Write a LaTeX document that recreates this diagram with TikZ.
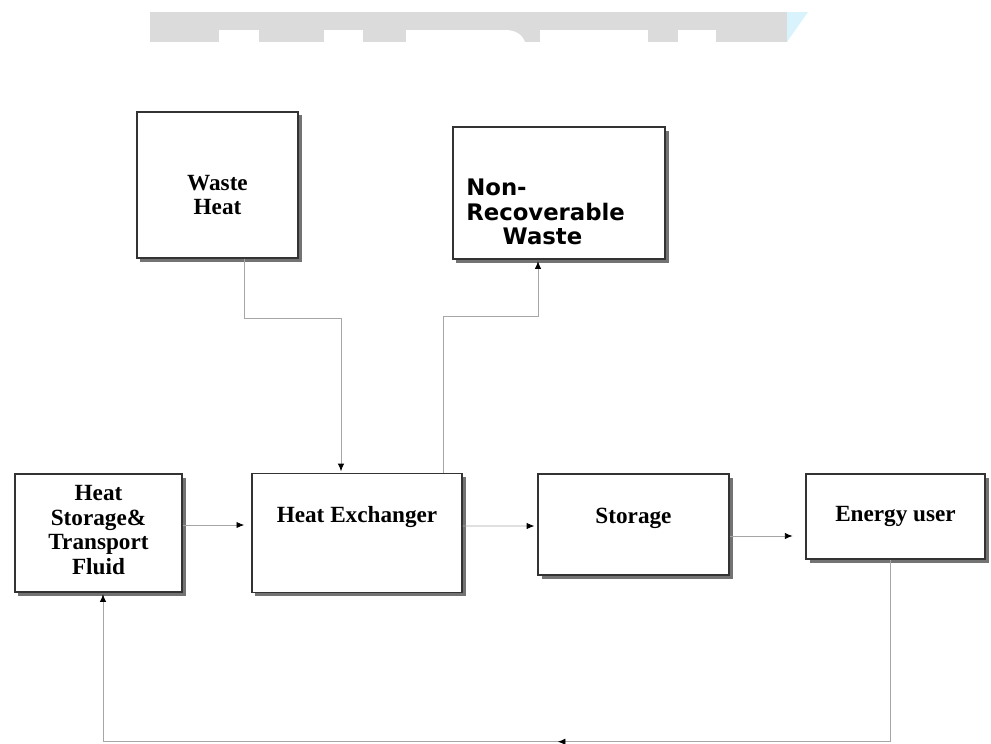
\documentclass[tikz,border=0pt]{standalone}
\usepackage{fontspec}
\setmainfont{Liberation Serif}
\newfontfamily\nrwfont{DejaVu Sans}
\usetikzlibrary{arrows.meta,calc,shadows,decorations.markings}

\tikzset{
  blk/.style={draw=black!80, line width=1pt, fill=white, inner sep=0pt,
    drop shadow={shadow xshift=2.5pt, shadow yshift=-2.5pt, fill=black!55, opacity=1}},
  lbl/.style={inner sep=0pt, align=center, font=\bfseries\fontsize{16.5}{17.5}\selectfont},
  flow/.style={draw=black!35, line width=0.6pt, -{Latex[length=5.5pt,width=4.5pt,color=black]}, shorten >=1pt},
  backmark/.style={postaction={decorate}, decoration={markings,
    mark=at position 0.46 with {\arrow{Latex[length=5.5pt,width=4.5pt,color=black]}}}},
}

\begin{document}
\begin{tikzpicture}[x=0.025cm, y=-0.025cm]
  \useasboundingbox (0,0) rectangle (991,743);

  \fill[black!14] (150,12) rectangle (787,42);
  \fill[cyan!15] (787,12) -- (808,12) -- (787,42) -- cycle;
  \fill[white] (219,30) rectangle (259,42);
  \fill[white] (324,30) rectangle (363,42);
  \fill[white] (406,42) -- (406,30) -- (505,30) to[out=0,in=110] (525,42) -- cycle;
  \fill[white] (540,30) rectangle (648,42);
  \fill[white] (678,30) rectangle (716,42);

  \node[blk, minimum width=4.025cm, minimum height=3.65cm] (wh) at (217.5,185) {};
  \node[blk, minimum width=5.3cm, minimum height=3.3cm] (nrw) at (559,193) {};
  \node[blk, minimum width=4.175cm, minimum height=2.95cm] (hsf) at (98.5,533) {};
  \node[blk, minimum width=5.25cm, minimum height=2.975cm] (hx) at (357,533) {};
  \node[blk, minimum width=4.775cm, minimum height=2.525cm] (st) at (633.5,524.5) {};
  \node[blk, minimum width=4.475cm, minimum height=2.125cm] (eu) at (895.5,516.5) {};

  \node[lbl] (whtxt) at ($(wh.center)+(0,10)$) {Waste\\Heat};
  \node[lbl, anchor=west, align=left, font=\nrwfont\bfseries\fontsize{16.2}{17.5}\selectfont]
    (nrwtxt) at (466,212) {Non-\\Recoverable\\\hspace*{1.6em}Waste};
  \node[lbl] (hsftxt) at ($(hsf.center)+(0,-3)$) {Heat\\Storage\&\\Transport\\Fluid};
  \node[lbl] (hxtxt) at ($(hx.center)+(0,-16)$) {Heat Exchanger};
  \node[lbl] (sttxt) at ($(st.center)+(0,-6)$) {Storage};
  \node[lbl] (eutxt) at (eu.center) {Energy user};

  \draw[flow] ($(wh.south)+(27,0)$) -- ++(0,60) -| ($(hx.north)+(-16,0)$);
  \draw[flow] ($(hx.north)+(86,0)$) -- ($(hx.north)+(86,-156)$) -| ($(nrw.south)+(-21,0)$);
  \draw[flow, shorten >=5pt] ($(hsf.east)+(0,-8)$) -- ($(hx.west)+(0,-8)$);
  \draw[flow, shorten >=2pt] ($(hx.east)+(0,-7)$) -- ($(st.west)+(0,1.5)$);
  \draw[flow, shorten >=9pt] ($(st.east)+(0,11.5)$) -- ($(eu.west)+(0,19.5)$);
  \draw[flow, backmark] ($(eu.south)+(-5.5,0)$) -- ++(0,182) -| ($(hsf.south)+(4.5,0)$);
\end{tikzpicture}
\end{document}
